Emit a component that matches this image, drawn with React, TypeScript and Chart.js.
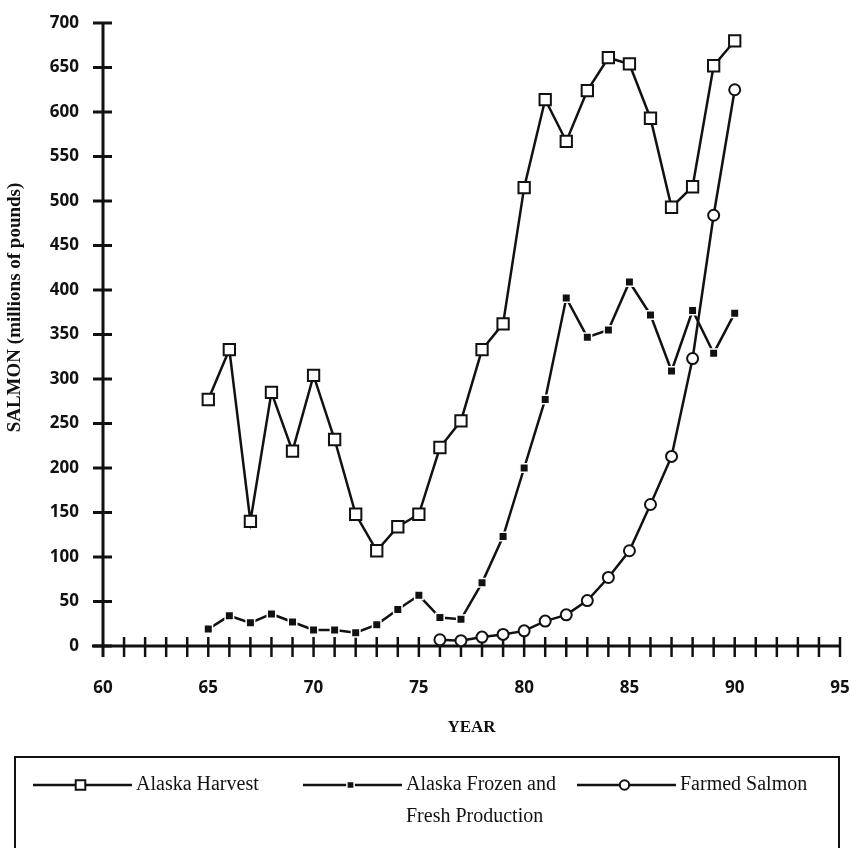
import React, { useEffect, useRef } from "react";
import { Chart, registerables } from "chart.js";

Chart.register(...registerables);

const seriesNames = ["Alaska Harvest", "Alaska Frozen and Fresh Production", "Farmed Salmon"];
const legendLines = [["Alaska Harvest"], ["Alaska Frozen and", "Fresh Production"], ["Farmed Salmon"]];

const alaskaYears = [65, 66, 67, 68, 69, 70, 71, 72, 73, 74, 75, 76, 77, 78, 79, 80, 81, 82, 83, 84, 85, 86, 87, 88, 89, 90];
const harvest = [277, 333, 140, 285, 219, 304, 232, 148, 107, 134, 148, 223, 253, 333, 362, 515, 614, 567, 624, 661, 654, 593, 493, 516, 652, 680];
const frozenFresh = [19, 34, 26, 36, 27, 18, 18, 15, 24, 41, 57, 32, 30, 71, 123, 200, 277, 391, 347, 355, 409, 372, 309, 377, 329, 374];

const farmedYears = [76, 77, 78, 79, 80, 81, 82, 83, 84, 85, 86, 87, 88, 89, 90];
const farmed = [7, 6, 10, 13, 17, 28, 35, 51, 77, 107, 159, 213, 323, 484, 625];

const xMin = 60;
const xMax = 95;
const xLabelStep = 5;
const yMin = 0;
const yMax = 700;
const yStep = 50;

const xTitle = "YEAR";
const yTitle = "SALMON (millions of pounds)";

const toPoints = (xs: number[], ys: number[]) => xs.map((x, i) => ({ x, y: ys[i] }));

const INK = "#111";

const axesPlugin = {
  id: "oldAxes",
  beforeDatasetsDraw(chart: any) {
    const { ctx } = chart;
    const xs = chart.scales.x;
    const ys = chart.scales.y;
    const x0 = xs.getPixelForValue(xMin);
    const x1 = xs.getPixelForValue(xMax);
    const y0 = ys.getPixelForValue(yMin);
    const yTop = ys.getPixelForValue(yMax);
    ctx.save();
    ctx.strokeStyle = INK;
    ctx.lineCap = "butt";
    ctx.lineWidth = 3;
    ctx.beginPath();
    ctx.moveTo(x0, yTop - 1);
    ctx.lineTo(x0, y0 + 11);
    ctx.stroke();
    ctx.beginPath();
    ctx.moveTo(x0 - 11, y0);
    ctx.lineTo(x1, y0);
    ctx.stroke();
    ys.ticks.forEach((t: any) => {
      const p = ys.getPixelForValue(t.value);
      ctx.lineWidth = 3;
      ctx.beginPath();
      ctx.moveTo(x0 - 10, p);
      ctx.lineTo(x0 + 9, p);
      ctx.stroke();
    });
    xs.ticks.forEach((t: any) => {
      if (t.value === xMin) return;
      const p = xs.getPixelForValue(t.value);
      ctx.lineWidth = 2.5;
      ctx.beginPath();
      ctx.moveTo(p, y0 - 9);
      ctx.lineTo(p, y0 + 11);
      ctx.stroke();
    });
    ctx.restore();
  },
  afterDraw(chart: any) {
    const { ctx } = chart;
    const ys = chart.scales.y;
    ctx.save();
    ctx.fillStyle = INK;
    ctx.font = "bold 19px 'Liberation Serif', serif";
    ctx.textAlign = "center";
    ctx.textBaseline = "middle";
    ctx.translate(15, (ys.top + ys.bottom) / 2 - 27);
    ctx.rotate(-Math.PI / 2);
    ctx.fillText(yTitle, 0, 0);
    ctx.restore();

    ctx.save();
    ctx.strokeStyle = INK;
    ctx.lineWidth = 2;
    ctx.strokeRect(15, 757, 824, 130);
    const starts = [33, 303, 577];
    const lineLen = 99;
    const rowY = 785;
    const rowGap = 32;
    chart.data.datasets.forEach((ds: any, i: number) => {
      const sx = starts[i];
      ctx.strokeStyle = INK;
      ctx.lineWidth = 2.5;
      ctx.beginPath();
      ctx.moveTo(sx, rowY);
      ctx.lineTo(sx + lineLen, rowY);
      ctx.stroke();
      const cx = sx + lineLen / 2 - 2;
      const r = ds.pointRadius;
      ctx.fillStyle = ds.pointBackgroundColor;
      ctx.strokeStyle = ds.pointBorderColor;
      ctx.lineWidth = ds.pointBorderWidth;
      ctx.beginPath();
      if (ds.pointStyle === "circle") {
        ctx.arc(cx, rowY, r * 0.85, 0, Math.PI * 2);
      } else {
        const h = Math.SQRT1_2 * r * 0.85;
        ctx.rect(cx - h, rowY - h, 2 * h, 2 * h);
      }
      ctx.fill();
      ctx.stroke();
      ctx.fillStyle = INK;
      ctx.font = "20px 'Liberation Serif', serif";
      ctx.textAlign = "left";
      ctx.textBaseline = "middle";
      legendLines[i].forEach((ln, k) => {
        ctx.fillText(ln, sx + lineLen + 4, rowY + k * rowGap);
      });
    });
    ctx.restore();
  },
};

export default function App() {
  const ref = useRef<HTMLCanvasElement | null>(null);

  useEffect(() => {
    document.body.style.margin = "0";
    const canvas = ref.current;
    if (!canvas) return;
    const tickFont = { family: "'Open Sans', sans-serif", size: 17, weight: "bold" as const };
    const chart = new Chart(canvas, {
      type: "line",
      data: {
        datasets: [
          {
            label: seriesNames[0],
            data: toPoints(alaskaYears, harvest),
            borderColor: INK,
            borderWidth: 2.5,
            pointStyle: "rect",
            pointRadius: 8,
            pointBorderWidth: 2,
            pointBackgroundColor: "#fff",
            pointBorderColor: INK,
            tension: 0,
          },
          {
            label: seriesNames[1],
            data: toPoints(alaskaYears, frozenFresh),
            borderColor: INK,
            borderWidth: 2.5,
            pointStyle: "rect",
            pointRadius: 6,
            pointBorderWidth: 1.5,
            pointBackgroundColor: INK,
            pointBorderColor: "#fff",
            tension: 0,
          },
          {
            label: seriesNames[2],
            data: toPoints(farmedYears, farmed),
            borderColor: INK,
            borderWidth: 2.5,
            pointStyle: "circle",
            pointRadius: 5.5,
            pointBorderWidth: 2,
            pointBackgroundColor: "#fff",
            pointBorderColor: INK,
            tension: 0,
          },
        ] as any,
      },
      options: {
        animation: false,
        responsive: false,
        events: [],
        layout: { padding: { left: 0, top: 23, right: 12, bottom: 110 } },
        plugins: { legend: { display: false }, tooltip: { enabled: false } },
        scales: {
          x: {
            type: "linear",
            min: xMin,
            max: xMax,
            grid: { display: false, drawTicks: false },
            border: { display: false },
            ticks: {
              stepSize: 1,
              autoSkip: false,
              maxRotation: 0,
              padding: 32,
              color: INK,
              font: tickFont,
              callback: (v: any) => (Number(v) % xLabelStep === 0 ? String(v) : ""),
            },
            title: {
              display: true,
              text: xTitle,
              color: INK,
              padding: { top: 0, bottom: 0 },
              font: { family: "'Liberation Serif', serif", size: 17, weight: "bold" },
            },
            afterFit: (s: any) => {
              s.height = 92;
              s.paddingLeft = 0;
              s.paddingRight = 0;
            },
          },
          y: {
            min: yMin,
            max: yMax,
            grid: { display: false, drawTicks: false },
            border: { display: false },
            ticks: {
              stepSize: yStep,
              padding: 24,
              color: INK,
              font: tickFont,
            },
            afterFit: (s: any) => {
              s.width = 103;
              s.paddingTop = 0;
              s.paddingBottom = 0;
            },
          },
        },
      },
      plugins: [axesPlugin],
    });
    return () => chart.destroy();
  }, []);

  return (
    <div style={{ position: "absolute", left: 0, top: 0, width: 852, height: 848, background: "#fff" }}>
      <canvas ref={ref} width={852} height={848} style={{ display: "block" }} />
    </div>
  );
}
